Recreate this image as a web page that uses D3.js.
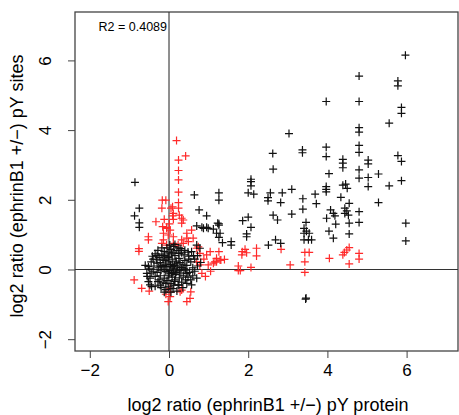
<!DOCTYPE html>
<html>
<head>
<meta charset="utf-8">
<script src="https://cdn.jsdelivr.net/npm/d3@7"></script>
<style>
  body { margin: 0; background: #fff; }
  text { font-family: "Liberation Sans", Arial, sans-serif; }
</style>
</head>
<body>
<svg width="459" height="415"></svg>
<script>
// log2 ratios: [protein, sites]
var blackPoints = [
  [5.97,6.15],[4.80,5.55],[5.78,5.41],[5.78,5.27],[3.97,4.82],[4.80,4.82],[5.87,4.65],[5.87,4.48],
  [5.56,4.20],[4.80,4.07],[4.80,3.94],[3.03,3.90],[2.62,3.33],[3.37,3.43],[3.37,3.35],[3.97,3.51],
  [3.97,3.24],[4.80,3.56],[4.80,3.36],[4.39,3.16],[4.39,3.05],[4.39,2.92],[5.03,3.14],[5.03,3.03],
  [5.78,3.27],[5.87,3.10],[2.63,2.88],[4.04,2.75],[4.80,2.86],[4.80,2.62],[5.03,2.64],[5.29,2.74],
  [5.03,2.38],[5.56,2.40],[5.87,2.55],[2.07,2.59],[2.07,2.52],[2.07,2.40],[2.00,2.20],[2.14,2.16],
  [2.56,2.20],[2.50,2.06],[2.50,1.97],[2.86,2.20],[3.10,2.30],[2.82,1.92],[3.38,2.03],[3.69,2.16],
  [3.72,1.89],[3.97,2.38],[3.97,2.30],[3.97,2.23],[4.39,2.42],[4.46,2.45],[4.50,2.33],[4.34,2.07],
  [4.55,1.90],[5.29,1.92],[3.38,1.73],[4.08,1.71],[4.15,1.61],[4.19,1.54],[3.98,1.47],[4.44,1.76],
  [4.49,1.68],[4.44,1.61],[4.53,1.56],[4.80,1.66],[4.80,1.35],[4.55,1.33],[4.21,1.30],[3.46,1.35],
  [3.41,1.18],[3.47,1.10],[3.54,1.04],[3.41,1.04],[3.41,0.85],[3.60,0.85],[3.52,0.85],[4.04,1.10],
  [4.15,0.90],[4.55,1.02],[5.98,1.33],[5.98,0.82],[3.45,-0.85],[3.46,-0.82],
  [1.26,2.20],[1.26,1.99],[3.10,1.59],[2.63,1.56],[2.74,1.42],[1.86,1.40],[2.00,1.50],[2.07,1.21],
  [1.96,1.02],[1.96,0.94],[1.26,1.31],[1.26,1.27],[1.20,1.04],[1.26,0.92],[1.35,0.77],[1.57,0.80],
  [1.57,0.70],[2.69,0.85],[2.82,0.75],[2.51,0.70],[1.29,1.04],[1.12,1.16],[0.99,1.18],[0.87,1.18],
  [-0.86,2.50],[0.64,2.14],[-0.75,1.76],[0.76,1.71],[0.95,1.54],[-0.87,1.54],[-0.75,1.34],[-0.75,1.21],
  [0.70,1.25],[0.83,1.21],[0.95,1.21],[1.23,1.33],[0.70,0.70],[0.78,0.61],[0.57,0.51],
  [-0.52,0.08],[-0.56,-0.11],[-0.48,-0.25],[-0.48,-0.44],[-0.44,-0.49],[0.23,-0.44],[0.45,-0.40],[0.57,-0.44],
  // dense cloud around the origin
  [-0.05,0.62],[0.05,0.58],[0.12,0.66],[0.20,0.55],[-0.12,0.52],[0.30,0.60],
  [-0.30,0.40],[-0.18,0.44],[-0.05,0.38],[0.06,0.45],[0.15,0.40],[0.25,0.46],[0.38,0.42],[0.50,0.38],[-0.40,0.30],
  [-0.45,0.22],[-0.32,0.28],[-0.22,0.20],[-0.10,0.26],[0.00,0.22],[0.08,0.30],[0.18,0.24],[0.28,0.20],[0.40,0.26],[0.55,0.22],[0.65,0.30],
  [-0.60,0.12],[-0.38,0.10],[-0.26,0.05],[-0.15,0.12],[-0.05,0.08],[0.04,0.14],[0.12,0.04],[0.22,0.10],[0.32,0.06],[0.45,0.12],[0.60,0.05],[0.72,0.10],
  [-0.40,-0.05],[-0.30,-0.08],[-0.20,-0.02],[-0.08,-0.06],[0.02,-0.03],[0.10,-0.08],[0.20,-0.04],[0.30,-0.10],[0.42,-0.02],[0.52,-0.08],[0.65,-0.05],
  [-0.35,-0.20],[-0.22,-0.18],[-0.12,-0.25],[-0.02,-0.18],[0.08,-0.22],[0.16,-0.15],[0.26,-0.24],[0.36,-0.18],[0.48,-0.22],[0.60,-0.18],
  [-0.28,-0.35],[-0.15,-0.38],[-0.05,-0.32],[0.05,-0.40],[0.14,-0.34],[0.32,-0.36],[0.42,-0.30],
  [-0.20,-0.52],[-0.08,-0.58],[0.10,-0.55],[0.20,-0.62],
  [-0.02,0.35],[0.10,0.50],[-0.15,0.30],[0.18,0.18],[-0.08,0.15],[0.06,-0.12],[-0.12,0.00],[0.25,0.32],
  [0.35,0.15],[-0.25,0.35],[0.00,0.48],[0.15,-0.30],
  [-0.50,0.02],[-0.55,-0.20],[-0.52,-0.35],[-0.35,0.45],[-0.28,0.55],[-0.18,0.62],[0.02,0.70],[0.15,0.72],
  [0.25,0.62],[0.40,0.55],[0.48,0.50],[-0.42,0.38],[-0.20,0.08],[-0.30,0.18],[0.50,0.30],[0.38,0.02],
  [0.26,-0.02],[0.14,0.12],[0.00,-0.10],[-0.08,-0.40],[-0.22,-0.45],[0.25,-0.45],[0.12,-0.45],[-0.02,-0.50],
  [0.05,-0.65],[-0.12,-0.65],[0.35,-0.52],[0.55,-0.30],[0.70,-0.25],[0.62,0.40],[-0.35,-0.48],[-0.45,-0.10],
  [0.08,0.08],[0.18,-0.08],[-0.12,0.40],[0.32,0.48],[-0.25,-0.30],[0.45,-0.12],[0.72,0.40],[0.80,0.20]
]

var redPoints = [
  [0.19,3.70],[0.42,3.26],[0.24,3.14],[0.24,2.84],[0.24,2.57],[0.24,2.22],[0.24,1.92],[0.24,1.76],
  [-0.17,1.99],[-0.08,1.99],[-0.18,1.76],[0.05,1.76],[0.09,1.80],
  [-0.33,1.37],[-0.12,1.44],[-0.16,1.23],[-0.06,1.21],[0.01,1.31],[0.11,1.44],[0.09,1.54],[0.26,1.56],
  [0.32,1.47],[0.36,1.42],[0.32,1.33],[0.11,1.61],
  [-0.52,0.94],[-0.52,0.85],[-0.76,0.60],[-0.76,0.52],
  [-0.06,1.18],[0.03,1.13],[-0.14,1.04],[-0.02,0.99],[0.11,0.94],[-0.18,0.75],[-0.06,0.70],[-0.14,0.85],
  [0.11,0.75],[0.32,0.85],[0.45,0.90],[0.23,0.70],[0.36,0.75],[0.45,1.04],[0.57,1.13],[0.49,0.80],
  [0.61,0.90],[0.74,0.65],
  [0.70,0.61],[0.78,0.46],[0.95,0.42],[1.04,0.51],[1.20,0.32],[1.12,0.18],[1.29,0.27],[0.78,0.13],
  [0.83,-0.11],[0.70,0.22],[1.16,0.22],[0.99,0.13],[0.88,0.30],[1.05,-0.05],[0.92,-0.20],
  [-0.88,-0.30],[-0.69,-0.54],[-0.50,-0.62],[0.03,-0.54],[0.03,-0.64],[0.03,-0.78],[-0.02,-0.92],
  [0.28,-0.64],[0.32,-0.59],[0.55,-0.64],[0.53,-0.83],[0.45,-0.92],[-0.08,-0.71],
  [1.26,0.51],[1.20,0.22],[1.31,0.27],[1.40,0.29],[1.75,0.10],[1.75,-0.03],[1.80,-0.03],[2.07,0.06],
  [1.85,0.51],[1.92,0.58],[1.84,0.42],[1.96,0.48],[2.21,0.61],[2.21,0.39],[2.83,0.58],[3.06,0.13],
  [3.43,0.49],[3.54,0.49],[3.43,0.22],[3.43,-0.08],[4.05,0.32],[4.39,0.42],[4.43,0.49],[4.49,0.56],
  [4.55,0.63],[4.80,0.46],[4.80,0.30],[4.55,0.16]
]

var xTicks = [-2, 0, 2, 4, 6]
var yTicks = [-2, 0, 2, 4, 6]
var r2Label = "R2 = 0.4089"

var box = {left: 75, top: 12, right: 458, bottom: 351}

var svg = d3.select("svg")

var xScale = d3.scaleLinear()
    .domain([-2.374, 7.298])
    .range([box.left, box.right])

var yScale = d3.scaleLinear()
    .domain([-2.339, 7.389])
    .range([box.bottom, box.top])

var fmt = function(d){ return d < 0 ? "\u2212" + Math.abs(d) : "" + d }

// x axis
var xAxis = d3.axisBottom(xScale).tickValues(xTicks).tickSize(7).tickPadding(6).tickFormat(fmt)
var gx = svg.append("g")
    .attr("transform", "translate(0," + box.bottom + ")")
    .call(xAxis)
gx.select(".domain").remove()
gx.selectAll("line").attr("stroke", "#444")
gx.selectAll("text").attr("font-size", 17).attr("fill", "#000")
    .attr("font-family", "Liberation Sans, Arial, sans-serif")

// y axis, labels turned like R does
var yAxis = d3.axisLeft(yScale).tickValues(yTicks).tickSize(7).tickFormat(fmt)
var gy = svg.append("g")
    .attr("transform", "translate(" + box.left + ",0)")
    .call(yAxis)
gy.select(".domain").remove()
gy.selectAll("line").attr("stroke", "#444")
gy.selectAll("text")
    .attr("font-size", 17).attr("fill", "#000")
    .attr("font-family", "Liberation Sans, Arial, sans-serif")
    .attr("x", null).attr("dy", null)
    .attr("text-anchor", "middle")
    .attr("transform", "translate(-24,0) rotate(-90)")

// box
svg.append("rect")
    .attr("x", box.left).attr("y", box.top)
    .attr("width", box.right - box.left).attr("height", box.bottom - box.top)
    .attr("fill", "none").attr("stroke", "#444").attr("stroke-width", 1.3)

// zero lines
svg.append("line")
    .attr("x1", xScale(0)).attr("x2", xScale(0))
    .attr("y1", box.top).attr("y2", box.bottom)
    .attr("stroke", "#333").attr("stroke-width", 1.1)
svg.append("line")
    .attr("x1", box.left).attr("x2", box.right)
    .attr("y1", yScale(0)).attr("y2", yScale(0))
    .attr("stroke", "#333").attr("stroke-width", 1.1)

// plus markers
var drawPlus = function(data, colour)
{
    var size = 4
    var g = svg.append("g").attr("stroke", colour).attr("stroke-width", 1.2)
    g.selectAll("path").data(data).enter().append("path")
        .attr("d", function(d){
            var x = xScale(d[0]), y = yScale(d[1])
            return "M" + (x - size) + "," + y + "H" + (x + size) +
                   "M" + x + "," + (y - size) + "V" + (y + size)
        })
}
drawPlus(redPoints, "#ff2a2a")
drawPlus(blackPoints, "#111")

// R2 note
svg.append("text")
    .attr("x", xScale(0) - 2).attr("y", 31)
    .attr("text-anchor", "end")
    .attr("font-size", 12.5)
    .text(r2Label)

// axis titles
svg.append("text")
    .attr("x", 268).attr("y", 411)
    .attr("text-anchor", "middle")
    .attr("font-size", 18)
    .text("log2 ratio (ephrinB1 +/\u2212) pY protein")

svg.append("text")
    .attr("transform", "translate(23,186) rotate(-90)")
    .attr("text-anchor", "middle")
    .attr("font-size", 18)
    .text("log2 ratio (ephrinB1 +/\u2212) pY sites")
</script>
</body>
</html>
